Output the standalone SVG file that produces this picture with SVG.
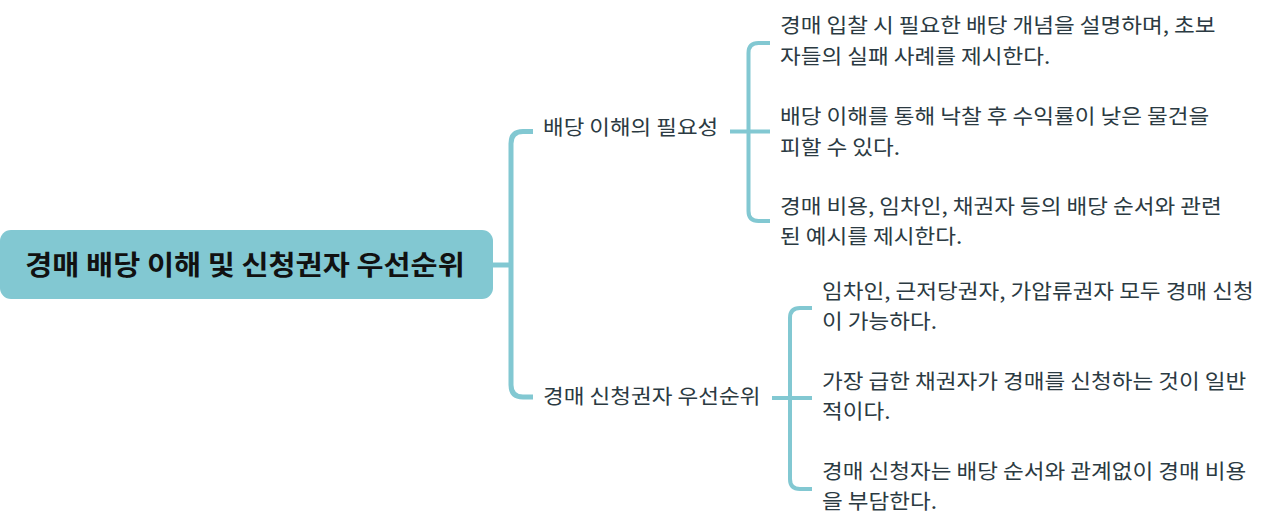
<svg xmlns="http://www.w3.org/2000/svg" width="1270" height="529" viewBox="0 0 1270 529">
<style>
  .txt { font-family: "Noto Sans CJK KR", "Noto Sans", sans-serif; fill: #2b3a42; font-size: 20.5px; }
  .root { font-family: "Noto Sans CJK KR", "Noto Sans", sans-serif; fill: #111111; font-size: 27px; font-weight: bold; }
  .conn { fill: none; stroke: #82c8d2; stroke-linecap: butt; stroke-linejoin: round; }
  .main { stroke-width: 5; }
  .sub { stroke-width: 4; }
</style>
<rect width="1270" height="529" fill="#ffffff"/>
<g id="connectors">
  <path class="conn main" d="M493 265 H511"/>
  <path class="conn main" d="M533 131.5 H523 Q511 131.5 511 143.5 V385 Q511 397 523 397 H533"/>
  <path class="conn sub" d="M730 131.5 H770"/>
  <path class="conn sub" d="M770 43 H758.5 Q748.5 43 748.5 53 V211 Q748.5 221 758.5 221 H770"/>
  <path class="conn sub" d="M772 398 H812"/>
  <path class="conn sub" d="M812 308 H800 Q790 308 790 318 V479 Q790 489 800 489 H812"/>
</g>
<g id="root">
  <rect x="0" y="230" width="493" height="69" rx="11" ry="11" fill="#82c8d2"/>
  <g transform="translate(245 0) scale(1.09 1)">
    <text class="root" x="0" y="275" text-anchor="middle">경매 배당 이해 및 신청권자 우선순위</text>
  </g>
</g>
<g id="node-need" transform="translate(543 0) scale(1.095 1)">
  <text class="txt" x="0" y="135">배당 이해의 필요성</text>
</g>
<g id="node-priority" transform="translate(543 0) scale(1.1 1)">
  <text class="txt" x="0" y="404">경매 신청권자 우선순위</text>
</g>
<g id="leaf-1" transform="translate(780 0) scale(1.1 1)">
  <text class="txt" x="0" y="33">경매 입찰 시 필요한 배당 개념을 설명하며, 초보</text>
  <text class="txt" x="0" y="64">자들의 실패 사례를 제시한다.</text>
</g>
<g id="leaf-2" transform="translate(780 0) scale(1.1 1)">
  <text class="txt" x="0" y="124">배당 이해를 통해 낙찰 후 수익률이 낮은 물건을</text>
  <text class="txt" x="0" y="155">피할 수 있다.</text>
</g>
<g id="leaf-3" transform="translate(780 0) scale(1.1 1)">
  <text class="txt" x="0" y="214">경매 비용, 임차인, 채권자 등의 배당 순서와 관련</text>
  <text class="txt" x="0" y="244">된 예시를 제시한다.</text>
</g>
<g id="leaf-4" transform="translate(822 0) scale(1.1 1)">
  <text class="txt" x="0" y="299.5">임차인, 근저당권자, 가압류권자 모두 경매 신청</text>
  <text class="txt" x="0" y="329.5">이 가능하다.</text>
</g>
<g id="leaf-5" transform="translate(822 0) scale(1.1 1)">
  <text class="txt" x="0" y="389.5">가장 급한 채권자가 경매를 신청하는 것이 일반</text>
  <text class="txt" x="0" y="419.5">적이다.</text>
</g>
<g id="leaf-6" transform="translate(822 0) scale(1.1 1)">
  <text class="txt" x="0" y="479.5">경매 신청자는 배당 순서와 관계없이 경매 비용</text>
  <text class="txt" x="0" y="509.5">을 부담한다.</text>
</g>
</svg>
